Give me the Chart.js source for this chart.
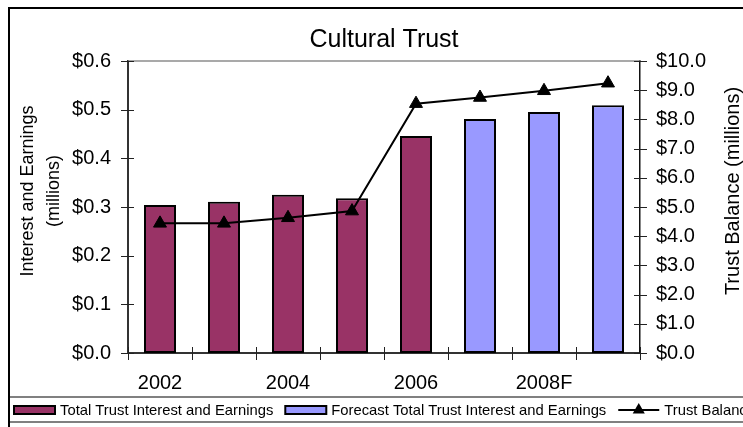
<!DOCTYPE html>
<html><head><meta charset="utf-8">
<script src="https://cdn.jsdelivr.net/npm/chart.js@4/dist/chart.umd.min.js"></script>
<style>html,body{margin:0;padding:0;background:#fff;overflow:hidden}canvas{display:block}</style>
</head><body>
<canvas id="c" width="743" height="427"></canvas>
<script>
const categories = ['2002','2003','2004','2005','2006','2007F','2008F','2009F'];
const tickLabels = ['2002','','2004','','2006','','2008F',''];
const actualEarnings = [0.304, 0.311, 0.325, 0.318, 0.446, null, null, null];
const forecastEarnings = [null, null, null, null, null, 0.481, 0.495, 0.509];
const trustBalance = [4.44, 4.44, 4.63, 4.86, 8.54, 8.75, 8.98, 9.24];
const seriesNames = ['Total Trust Interest and Earnings', 'Forecast Total Trust Interest and Earnings', 'Trust Balance'];
const chartTitle = 'Cultural Trust';
const leftTitleLines = ['Interest and Earnings', '(millions)'];
const rightTitle = 'Trust Balance (millions)';

const FONT = "'Liberation Sans', Arial, sans-serif";
const PURPLE = '#993366', BLUE = '#9999FF';

const decor = {
  id: 'decor',
  beforeDatasetsDraw(chart) {
    const {ctx, chartArea: a} = chart;
    ctx.save();
    ctx.strokeStyle = '#8c8c8c'; ctx.lineWidth = 1.5;
    ctx.beginPath(); ctx.moveTo(a.left, a.top); ctx.lineTo(a.right, a.top); ctx.stroke();
    ctx.restore();
  },
  afterDraw(chart) {
    const {ctx, chartArea: a, scales} = chart;
    ctx.save();
    // crossing tick marks
    ctx.strokeStyle = '#222'; ctx.lineWidth = 1;
    ctx.beginPath();
    scales.y.ticks.forEach((t, i) => {
      const py = Math.round(scales.y.getPixelForTick(i)) + 0.5;
      ctx.moveTo(a.left - 7, py); ctx.lineTo(a.left + 6, py);
    });
    scales.y1.ticks.forEach((t, i) => {
      const py = Math.round(scales.y1.getPixelForTick(i)) + 0.5;
      ctx.moveTo(a.right - 6, py); ctx.lineTo(a.right + 7, py);
    });
    for (let i = 0; i <= categories.length; i++) {
      const px = Math.round(scales.x.getPixelForValue(i - 0.5)) + 0.5;
      ctx.moveTo(px, a.bottom - 6); ctx.lineTo(px, a.bottom + 7);
    }
    ctx.stroke();

    // axis titles
    ctx.fillStyle = '#000';
    ctx.textAlign = 'center'; ctx.textBaseline = 'middle';
    ctx.font = '18px ' + FONT;
    const lx = [28, 54];
    leftTitleLines.forEach((s, i) => {
      ctx.save(); ctx.translate(lx[i], 191); ctx.rotate(-Math.PI / 2); ctx.fillText(s, 0, 0); ctx.restore();
    });
    ctx.font = '20px ' + FONT;
    ctx.save(); ctx.translate(733, 191); ctx.rotate(-Math.PI / 2); ctx.fillText(rightTitle, 0, 0); ctx.restore();

    // legend box lines
    ctx.strokeStyle = '#808080'; ctx.lineWidth = 2;
    ctx.beginPath();
    ctx.moveTo(9, 397); ctx.lineTo(743, 397);
    ctx.moveTo(9, 422); ctx.lineTo(743, 422);
    ctx.stroke();

    // legend items
    ctx.font = '14.8px ' + FONT;
    ctx.textAlign = 'left'; ctx.textBaseline = 'middle';
    let x = 14; const cy = 410;
    chart.data.datasets.forEach((ds) => {
      if (ds.type === 'line') {
        ctx.strokeStyle = ds.borderColor; ctx.lineWidth = 2;
        ctx.beginPath(); ctx.moveTo(x, cy); ctx.lineTo(x + 41, cy); ctx.stroke();
        const mx = x + 20.5, r = 7;
        ctx.fillStyle = ds.pointBackgroundColor;
        ctx.beginPath();
        ctx.moveTo(mx, cy - r); ctx.lineTo(mx + r * 0.866, cy + r * 0.5); ctx.lineTo(mx - r * 0.866, cy + r * 0.5); ctx.closePath();
        ctx.fill();
      } else {
        ctx.fillStyle = ds.backgroundColor;
        ctx.fillRect(x, cy - 4, 41, 8);
        ctx.strokeStyle = '#000'; ctx.lineWidth = 2;
        ctx.strokeRect(x, cy - 4, 41, 8);
      }
      ctx.fillStyle = '#000';
      ctx.fillText(ds.label, x + 46, cy + 0.5);
      x += 46 + ctx.measureText(ds.label).width + 12;
    });

    // outer frame
    ctx.strokeStyle = '#000'; ctx.lineWidth = 2;
    ctx.beginPath();
    ctx.moveTo(9, 427); ctx.lineTo(9, 8); ctx.lineTo(743, 8);
    ctx.stroke();
    ctx.restore();
  }
};

const money = (v) => '$' + Number(v).toFixed(1);

new Chart(document.getElementById('c'), {
  data: {
    labels: categories,
    datasets: [
      { type: 'bar', label: seriesNames[0], data: actualEarnings, backgroundColor: PURPLE, borderColor: '#000', borderWidth: 2, borderSkipped: false, yAxisID: 'y', order: 2, categoryPercentage: 1, barPercentage: 0.5 },
      { type: 'bar', label: seriesNames[1], data: forecastEarnings, backgroundColor: BLUE, borderColor: '#000', borderWidth: 2, borderSkipped: false, yAxisID: 'y', order: 2, categoryPercentage: 1, barPercentage: 0.5 },
      { type: 'line', label: seriesNames[2], data: trustBalance, borderColor: '#000', borderWidth: 2, pointStyle: 'triangle', pointRadius: 7.5, pointBackgroundColor: '#000', pointBorderColor: '#000', pointBorderWidth: 1, tension: 0, yAxisID: 'y1', order: 1 }
    ]
  },
  options: {
    responsive: false,
    animation: false,
    layout: { padding: 0 },
    plugins: {
      legend: { display: false },
      tooltip: { enabled: false },
      title: { display: true, text: chartTitle, fullSize: false, color: '#000', font: { family: FONT, size: 25, weight: 'normal', lineHeight: 1.2 }, padding: { top: 25, bottom: 6 } }
    },
    scales: {
      x: {
        stacked: true,
        grid: { display: false, drawTicks: false },
        border: { display: true, color: '#333', width: 2 },
        ticks: { autoSkip: false, maxRotation: 0, color: '#000', padding: 18, font: { family: FONT, size: 20 }, callback: (v, i) => tickLabels[i] },
        afterFit: (s) => { s.height = 74; }
      },
      y: {
        position: 'left', min: 0, max: 0.6,
        grid: { display: false, drawTicks: false },
        border: { display: true, color: '#333', width: 2 },
        ticks: { stepSize: 0.1, color: '#000', padding: 17, font: { family: FONT, size: 20 }, callback: money },
        afterFit: (s) => { s.width = 128; }
      },
      y1: {
        position: 'right', min: 0, max: 10,
        grid: { display: false, drawTicks: false },
        border: { display: true, color: '#111', width: 1.5 },
        ticks: { stepSize: 1, color: '#000', padding: 16, font: { family: FONT, size: 20 }, callback: money },
        afterFit: (s) => { s.width = 103; }
      }
    }
  },
  plugins: [decor]
});
</script>
</body></html>
